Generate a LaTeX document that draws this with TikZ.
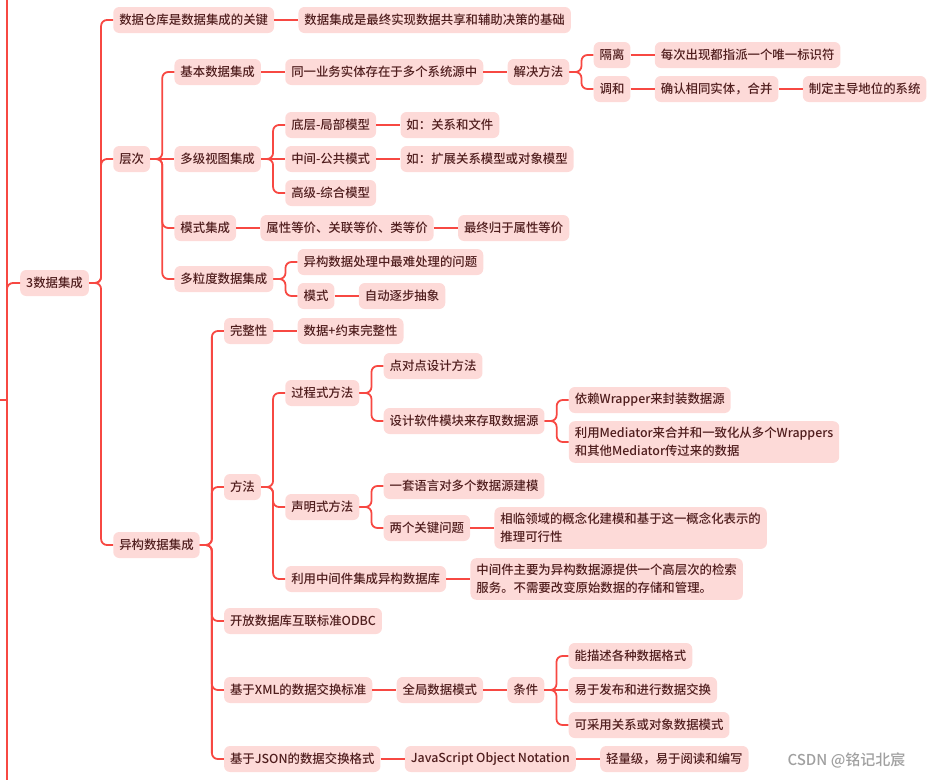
\documentclass[tikz,border=0pt]{standalone}
\usepackage{fontspec}
\setmainfont{Noto Sans CJK SC}[UprightFont={* Medium}]
\usepackage{tikz}

\definecolor{boxfill}{RGB}{253,218,216}
\definecolor{ink}{RGB}{80,30,30}
\definecolor{linkred}{RGB}{247,72,66}
\definecolor{markgrey}{RGB}{160,160,160}

\tikzset{
  box/.style={anchor=west, fill=boxfill, text=ink, rounded corners=6pt,
    inner xsep=6pt, inner ysep=6pt, minimum height=26pt, align=left,
    font=\fontsize{12.4}{18}\selectfont},
  kid/.style={box, xshift=24pt},
  wire/.style={draw=linkred, line width=1.8pt, rounded corners=6pt},
  fork/.style={wire, to path={(\tikztostart.east) -- ++(12,0) |- (\tikztotarget.west)}},
  link/.style={wire, to path={(\tikztostart.east) -- (\tikztotarget.west)}},
}

\begin{document}
\begin{tikzpicture}[x=1pt, y=-1pt]
        \useasboundingbox (0,0) rectangle (934,779);

        % root and the first level
        \node[box] (dataint) at (20,283) {3数据集成};
        \node[kid] (warehouse) at (dataint.east |- 0,20) {数据仓库是数据集成的关键};
        \node[kid] (basis) at (warehouse.east |- 0,20) {数据集成是最终实现数据共享和辅助决策的基础};
        \node[kid] (levels) at (dataint.east |- 0,159) {层次};
        \node[kid] (hetero) at (dataint.east |- 0,545) {异构数据集成};

        % levels
        \node[kid] (basic) at (levels.east |- 0,72) {基本数据集成};
        \node[kid] (sameent) at (basic.east |- 0,72) {同一业务实体存在于多个系统源中};
        \node[kid] (solve) at (sameent.east |- 0,72) {解决方法};
        \node[kid] (isolate) at (solve.east |- 0,55) {隔离};
        \node[kid] (uid) at (isolate.east |- 0,55) {每次出现都指派一个唯一标识符};
        \node[kid] (reconcile) at (solve.east |- 0,89) {调和};
        \node[kid] (merge) at (reconcile.east |- 0,89) {确认相同实体，合并};
        \node[kid] (master) at (merge.east |- 0,89) {制定主导地位的系统};
        \node[kid] (multiview) at (levels.east |- 0,159) {多级视图集成};
        \node[kid] (local) at (multiview.east |- 0,125) {底层-局部模型};
        \node[kid] (localeg) at (local.east |- 0,125) {如：关系和文件};
        \node[kid] (common) at (multiview.east |- 0,159) {中间-公共模式};
        \node[kid] (commoneg) at (common.east |- 0,159) {如：扩展关系模型或对象模型};
        \node[kid] (global) at (multiview.east |- 0,193) {高级-综合模型};
        \node[kid] (schema) at (levels.east |- 0,228) {模式集成};
        \node[kid] (equiv) at (schema.east |- 0,228) {属性等价、关联等价、类等价};
        \node[kid] (attr) at (equiv.east |- 0,228) {最终归于属性等价};
        \node[kid] (grain) at (levels.east |- 0,279) {多粒度数据集成};
        \node[kid] (hardest) at (grain.east |- 0,262) {异构数据处理中最难处理的问题};
        \node[kid] (mode) at (grain.east |- 0,296) {模式};
        \node[kid] (abstract) at (mode.east |- 0,296) {自动逐步抽象};

        % heterogeneous integration
        \node[kid] (integrity) at (hetero.east |- 0,331) {完整性};
        \node[kid] (constr) at (integrity.east |- 0,331) {数据+约束完整性};
        \node[kid] (method) at (hetero.east |- 0,487) {方法};
        \node[kid] (proc) at (method.east |- 0,393) {过程式方法};
        \node[kid] (p2p) at (proc.east |- 0,366) {点对点设计方法};
        \node[kid] (module) at (proc.east |- 0,421) {设计软件模块来存取数据源};
        \node[kid] (wrapper) at (module.east |- 0,400) {依赖Wrapper来封装数据源};
        \node[kid] (mediator) at (module.east |- 0,442) {利用Mediator来合并和一致化从多个Wrappers\\和其他Mediator传过来的数据};
        \node[kid] (decl) at (method.east |- 0,507) {声明式方法};
        \node[kid] (lang) at (decl.east |- 0,486) {一套语言对多个数据源建模};
        \node[kid] (keyq) at (decl.east |- 0,528) {两个关键问题};
        \node[kid] (concept) at (keyq.east |- 0,528) {相临领域的概念化建模和基于这一概念化表示的\\推理可行性};
        \node[kid] (middle) at (method.east |- 0,579) {利用中间件集成异构数据库};
        \node[kid] (midnote) at (middle.east |- 0,579) {中间件主要为异构数据源提供一个高层次的检索\\服务。不需要改变原始数据的存储和管理。};
        \node[kid] (odbc) at (hetero.east |- 0,621) {开放数据库互联标准ODBC};
        \node[kid] (xml) at (hetero.east |- 0,690) {基于XML的数据交换标准};
        \node[kid] (gschema) at (xml.east |- 0,690) {全局数据模式};
        \node[kid] (cond) at (gschema.east |- 0,690) {条件};
        \node[kid] (fmt) at (cond.east |- 0,656) {能描述各种数据格式};
        \node[kid] (publish) at (cond.east |- 0,690) {易于发布和进行数据交换};
        \node[kid] (relobj) at (cond.east |- 0,725) {可采用关系或对象数据模式};
        \node[kid] (json) at (hetero.east |- 0,759) {基于JSON的数据交换格式};
        \node[kid] (jsname) at (json.east |- 0,759) {JavaScript Object Notation};
        \node[kid] (light) at (jsname.east |- 0,759) {轻量级，易于阅读和编写};

        % the parent off to the left
        \coordinate (top) at (7,-3);
        \coordinate (bottom) at (7,782);
        \coordinate (hub) at (-3,400);
        \draw[wire] (top) -- (bottom);
        \draw[wire] (hub) -- (hub -| top);
        \draw[wire] (bottom) |- (dataint.west);

        \path (dataint) edge[fork] (warehouse) edge[fork] (levels) edge[fork] (hetero);
        \path (warehouse) edge[link] (basis);
        \path (levels) edge[fork] (basic) edge[link] (multiview)
                edge[fork] (schema) edge[fork] (grain);
        \path (basic) edge[link] (sameent);
        \path (sameent) edge[link] (solve);
        \path (solve) edge[fork] (isolate) edge[fork] (reconcile);
        \path (isolate) edge[link] (uid);
        \path (reconcile) edge[link] (merge);
        \path (merge) edge[link] (master);
        \path (multiview) edge[fork] (local) edge[link] (common) edge[fork] (global);
        \path (local) edge[link] (localeg);
        \path (common) edge[link] (commoneg);
        \path (schema) edge[link] (equiv);
        \path (equiv) edge[link] (attr);
        \path (grain) edge[fork] (hardest) edge[fork] (mode);
        \path (mode) edge[link] (abstract);

        \path (hetero) edge[fork] (integrity) edge[fork] (method) edge[fork] (odbc)
                edge[fork] (xml) edge[fork] (json);
        \path (integrity) edge[link] (constr);
        \path (method) edge[fork] (proc) edge[fork] (decl) edge[fork] (middle);
        \path (proc) edge[fork] (p2p) edge[fork] (module);
        \path (module) edge[fork] (wrapper) edge[fork] (mediator);
        \path (decl) edge[fork] (lang) edge[fork] (keyq);
        \path (keyq) edge[link] (concept);
        \path (middle) edge[link] (midnote);
        \path (xml) edge[link] (gschema);
        \path (gschema) edge[link] (cond);
        \path (cond) edge[fork] (fmt) edge[link] (publish) edge[fork] (relobj);
        \path (json) edge[link] (jsname);
        \path (jsname) edge[link] (light);

        \node[anchor=west, text=markgrey, font=\fontsize{15}{15}\selectfont] (csdn) at (784,760) {CSDN @铭记北宸};
\end{tikzpicture}
\end{document}
